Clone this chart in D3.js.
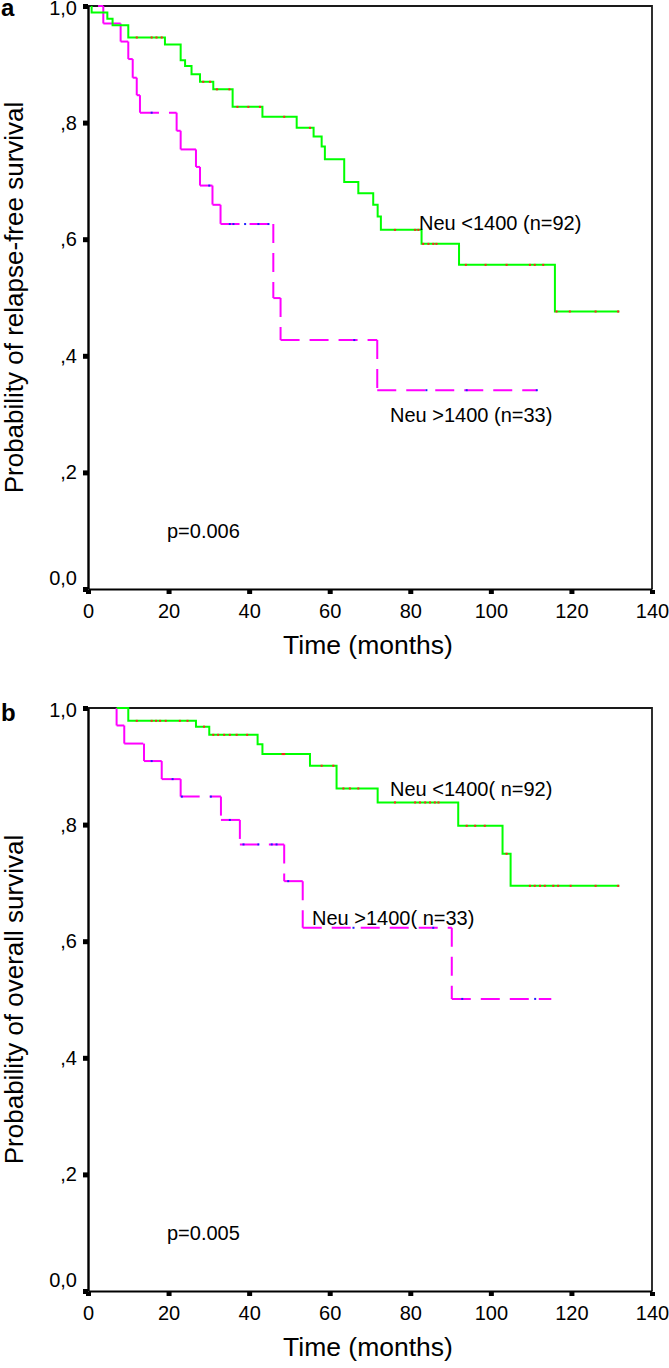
<!DOCTYPE html>
<html>
<head>
<meta charset="utf-8">
<script src="https://cdn.jsdelivr.net/npm/d3@7"></script>
<style>
    body { margin: 0; background: #fff; }
    svg { display: block; font-family: "Liberation Sans", Arial, sans-serif; }
</style>
</head>
<body>
<svg id="chart" width="669" height="1368"></svg>
<script>
// Axis ticks
const timeTicks = [0, 20, 40, 60, 80, 100, 120, 140];
const survTicks = [0, 0.2, 0.4, 0.6, 0.8, 1.0];
const survTickLabels = ['0,0', ',2', ',4', ',6', ',8', '1,0'];

// Panel a - relapse-free survival, Neu <1400 (n=92)
const rfsLowStart = 0.9;
const rfsLowTimes = [0.9, 4.8, 6.1, 10.0, 19.1, 23.0, 24.1, 25.7, 27.8, 31.1, 35.9, 43.3, 51.8, 56.0, 58.0, 58.8, 63.6, 67.1, 70.8, 71.9, 72.7, 82.8, 92.1, 115.9];
const rfsLowSurv = [0.989, 0.978, 0.967, 0.946, 0.934, 0.907, 0.897, 0.883, 0.870, 0.857, 0.827, 0.810, 0.791, 0.776, 0.759, 0.737, 0.698, 0.679, 0.659, 0.639, 0.616, 0.592, 0.556, 0.476];
const rfsLowEnd = 131.9;
const rfsLowCensor = [12.1, 15.8, 17.0, 18.3, 28.6, 30.3, 32.0, 35.1, 37.1, 39.8, 42.7, 48.7, 55.1, 76.2, 81.2, 82.0, 83.2, 84.5, 85.7, 86.5, 93.8, 98.7, 103.9, 109.7, 110.9, 113.0, 116.3, 119.6, 126.0, 131.6];

// Panel a - relapse-free survival, Neu >1400 (n=33)
const rfsHighStart = 2.5;
const rfsHighTimes = [3.8, 8.1, 10.0, 11.1, 12.1, 12.9, 22.0, 23.0, 26.8, 27.8, 30.9, 32.9, 46.0, 47.8, 71.8];
const rfsHighSurv = [0.970, 0.939, 0.909, 0.877, 0.847, 0.817, 0.786, 0.754, 0.724, 0.692, 0.659, 0.626, 0.499, 0.427, 0.341];
const rfsHighEnd = 111.4;
const rfsHighCensor = [15.8, 30.1, 35.2, 36.1, 39.0, 42.3, 44.8, 66.1, 84.0, 94.0, 111.4];

// Panel b - overall survival, Neu <1400 (n=92)
const osLowStart = 7.1;
const osLowTimes = [10.0, 26.8, 30.1, 42.1, 43.3, 55.1, 61.7, 71.9, 91.9, 102.9, 104.9];
const osLowSurv = [0.978, 0.968, 0.954, 0.938, 0.921, 0.901, 0.862, 0.838, 0.798, 0.750, 0.695];
const osLowEnd = 131.9;
const osLowCensor = [12.1, 15.8, 16.9, 17.9, 19.3, 22.8, 24.7, 28.8, 31.1, 32.3, 33.8, 35.2, 36.9, 39.5, 48.3, 48.7, 58.0, 60.9, 63.4, 65.0, 67.1, 76.2, 81.2, 82.4, 83.7, 84.9, 86.1, 87.0, 94.0, 96.1, 98.5, 103.9, 109.7, 110.9, 112.2, 113.4, 115.5, 116.7, 119.8, 126.0, 131.6];

// Panel b - overall survival, Neu >1400 (n=33)
const osHighStart = 7.1;
const osHighTimes = [7.1, 9.0, 13.9, 18.3, 23.0, 33.0, 37.7, 48.7, 53.3, 90.3];
const osHighSurv = [0.970, 0.939, 0.909, 0.878, 0.848, 0.808, 0.766, 0.703, 0.623, 0.501];
const osHighEnd = 115.0;
const osHighCensor = [15.8, 21.0, 23.3, 30.5, 35.2, 38.6, 42.3, 45.6, 46.8, 49.7, 65.9, 85.7, 92.9, 111.0];

const panels = [
    {
        letter: 'a', top: 0, yTitle: 'Probability of relapse-free survival', pText: 'p=0.006',
        low: [rfsLowStart, rfsLowTimes, rfsLowSurv, rfsLowEnd, rfsLowCensor],
        high: [rfsHighStart, rfsHighTimes, rfsHighSurv, rfsHighEnd, rfsHighCensor],
        lowLabel: 'Neu <1400 (n=92)', lowPos: [419, 230],
        highLabel: 'Neu >1400 (n=33)', highPos: [390, 422]
    },
    {
        letter: 'b', top: 702, yTitle: 'Probability of overall survival', pText: 'p=0.005',
        low: [osLowStart, osLowTimes, osLowSurv, osLowEnd, osLowCensor],
        high: [osHighStart, osHighTimes, osHighSurv, osHighEnd, osHighCensor],
        lowLabel: 'Neu <1400( n=92)', lowPos: [390, 94],
        highLabel: 'Neu >1400( n=33)', highPos: [312, 223]
    }
];

const svg = d3.select('#chart');
const x = d3.scaleLinear().domain([0, 140]).range([88, 652]);
const y = d3.scaleLinear().domain([0, 1]).range([589, 6]);

// step curve vertices from start, event times and levels
function stepPoints(start, times, surv, end) {
    const pts = [[start, 1]];
    let s = 1;
    times.forEach((t, i) => {
        pts.push([t, s]);
        s = surv[i];
        pts.push([t, s]);
    });
    pts.push([end, s]);
    return pts;
}

function levelAt(t, times, surv) {
    let s = 1;
    times.forEach((tt, i) => { if (tt <= t) s = surv[i]; });
    return s;
}

const line = d3.line().x(d => x(d[0])).y(d => y(d[1]));

panels.forEach(p => {
    const g = svg.append('g').attr('transform', `translate(0,${p.top})`);

    // panel letter
    g.append('text')
        .attr('x', 1).attr('y', p.letter === 'a' ? 16 : 19)
        .attr('font-size', 24).attr('font-weight', 'bold')
        .text(p.letter);

    // top and right frame
    g.append('path')
        .attr('d', `M${x(0)},${y(1)}H${x(140)}V${y(0)}`)
        .attr('fill', 'none').attr('stroke', '#1a1a1a').attr('stroke-width', 1.8);

    // x axis
    g.append('g')
        .attr('transform', `translate(0,${y(0)})`)
        .call(d3.axisBottom(x).tickValues(timeTicks).tickSize(5).tickSizeOuter(0).tickFormat(d3.format('d')))
        .call(a => {
            a.attr('font-size', 20).attr('font-family', null);
            a.select('.domain').attr('stroke', '#000').attr('stroke-width', 2);
            a.selectAll('.tick line').attr('stroke', '#000').attr('stroke-width', 5).attr('y1', 1);
            a.selectAll('.tick text').attr('fill', '#000').attr('y', 29).attr('dy', null);
        });

    // y axis
    g.append('g')
        .attr('transform', `translate(${x(0)},0)`)
        .call(d3.axisLeft(y).tickValues(survTicks).tickSize(5).tickSizeOuter(0)
            .tickFormat((d, i) => survTickLabels[i]))
        .call(a => {
            a.attr('font-size', 20).attr('font-family', null);
            a.select('.domain').attr('stroke', '#000').attr('stroke-width', 2.4);
            a.selectAll('.tick line').attr('stroke', '#000').attr('stroke-width', 5);
            a.selectAll('.tick text').attr('fill', '#000').attr('x', -11)
                .attr('y', d => d === 0 ? -10.5 : (d === 1 ? 2.5 : 0));
        });

    // axis titles
    g.append('text')
        .attr('x', 368).attr('y', 654)
        .attr('text-anchor', 'middle').attr('font-size', 26.5)
        .text('Time (months)');
    g.append('text')
        .attr('transform', `translate(23,${(y(0) + y(1)) / 2}) rotate(-90)`)
        .attr('text-anchor', 'middle').attr('font-size', 26)
        .text(p.yTitle);

    // Neu >1400: dashed, pattern restarts on each step segment
    const hi = stepPoints(p.high[0], p.high[1], p.high[2], p.high[3]);
    const hiSegs = d3.pairs(hi).filter(([a, b]) => a[0] !== b[0] || a[1] !== b[1]);
    g.append('g').selectAll('line')
        .data(hiSegs)
        .enter().append('line')
        .attr('x1', d => x(d[0][0])).attr('y1', d => y(d[0][1]))
        .attr('x2', d => x(d[1][0])).attr('y2', d => y(d[1][1]))
        .attr('stroke', '#ff00ff').attr('stroke-width', 2)
        .attr('stroke-dasharray', '19,10');

    // Neu <1400: solid
    const lo = stepPoints(p.low[0], p.low[1], p.low[2], p.low[3]);
    g.append('path')
        .attr('d', line(lo))
        .attr('fill', 'none').attr('stroke', '#00ff00').attr('stroke-width', 2);

    // censor marks
    g.append('g').selectAll('rect')
        .data(p.low[4])
        .enter().append('rect')
        .attr('x', d => x(d) - 1).attr('y', d => y(levelAt(d, p.low[1], p.low[2])) - 1)
        .attr('width', 2).attr('height', 2).attr('fill', '#ff2020');
    g.append('g').selectAll('rect')
        .data(p.high[4])
        .enter().append('rect')
        .attr('x', d => x(d) - 1).attr('y', d => y(levelAt(d, p.high[1], p.high[2])) - 1)
        .attr('width', 2).attr('height', 2).attr('fill', '#2020ff');

    // curve labels and p value
    g.append('text').attr('x', p.lowPos[0]).attr('y', p.lowPos[1])
        .attr('font-size', 20).text(p.lowLabel);
    g.append('text').attr('x', p.highPos[0]).attr('y', p.highPos[1])
        .attr('font-size', 20).text(p.highLabel);
    g.append('text').attr('x', 167).attr('y', 538)
        .attr('font-size', 20).text(p.pText);
});
</script>
</body>
</html>
